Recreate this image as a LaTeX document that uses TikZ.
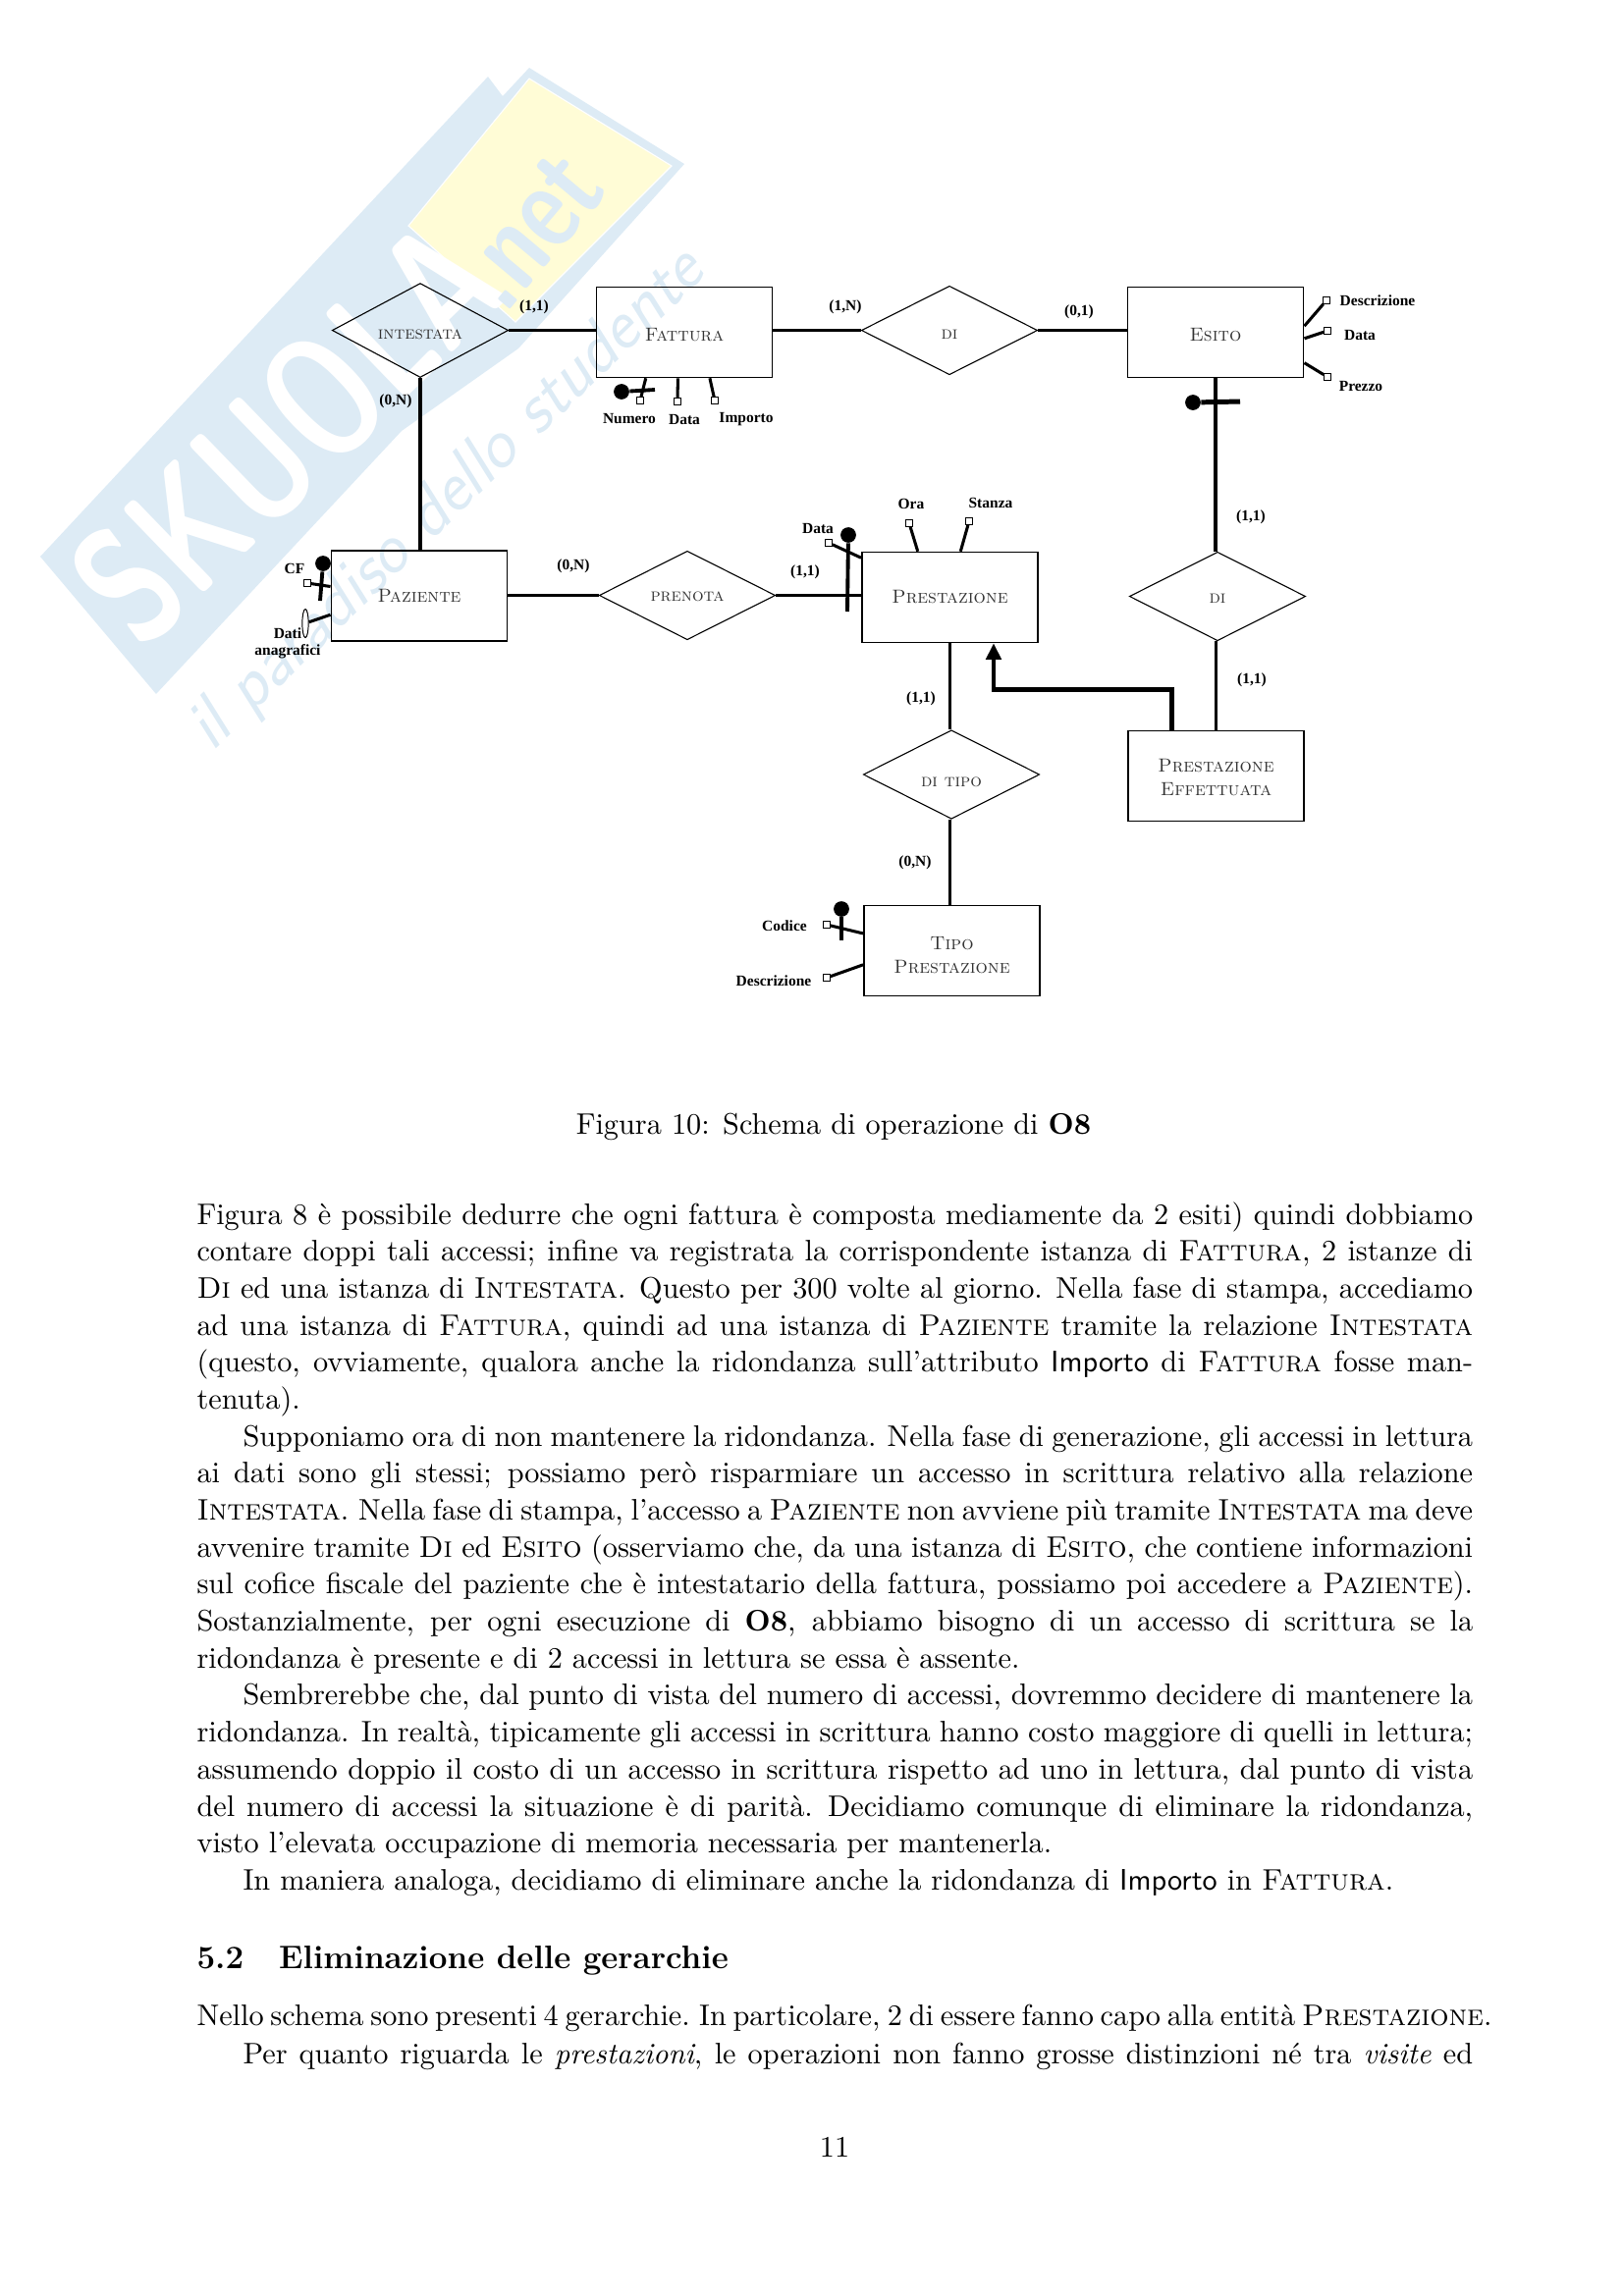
\documentclass[tikz,border=0pt]{standalone}
\usepackage{xcolor}
\usepackage{fontspec}
\usetikzlibrary{arrows.meta,shapes.geometric}

\newfontfamily\labelfont{Liberation Serif}
\definecolor{markblue}{RGB}{221,235,245}
\definecolor{markyellow}{RGB}{255,252,214}
\newcommand{\pagefont}{\fontsize{10.95}{13.63}\selectfont}
\newcommand{\fitline}[2][470pt]{\hbox to #1{\spaceskip=0.33em plus 0.3em minus 0.16em\xspaceskip=0.44em plus 0.3em minus 0.2em\relax #2}}
\newcommand{\lowsc}[2]{\raisebox{-#1}[\height][0pt]{\textsc{#2}}}

\tikzset{
    entity/.style={rectangle,draw,line width=0.55pt,minimum width=2.28cm,minimum height=1.17cm,inner sep=0pt,align=center,text=black!80,font=\fontsize{7}{9}\selectfont},
    relation/.style={diamond,draw,line width=0.4pt,minimum width=2.28cm,minimum height=1.15cm,inner sep=0pt,text=black!80,font=\fontsize{6.6}{8}\selectfont},
    link/.style={line width=1.2pt},
    attrline/.style={line width=1.1pt},
    keyline/.style={line width=1.4pt},
    isaline/.style={line width=1.8pt,-{Triangle[length=6pt,width=5.5pt]}},
    attrsq/.style={rectangle,draw,fill=white,line width=0.35pt,minimum size=0.085cm,inner sep=0pt},
    attrround/.style={ellipse,draw,fill=white,line width=0.35pt,minimum width=0.08cm,minimum height=0.37cm,inner sep=0pt},
    keydot/.style={circle,fill=black,minimum size=0.2cm,inner sep=0pt},
    smalllabel/.style={inner sep=0pt,align=center,font=\labelfont\fontsize{5.6}{6.2}\selectfont\bfseries},
    pageline/.style={anchor=base,inner sep=0pt,font=\pagefont},
    pagetext/.style={anchor=base west,inner sep=0pt,text width=470pt,font=\pagefont}
}

\begin{document}
\begin{tikzpicture}[x=0.012704cm,y=-0.012704cm]
    \useasboundingbox (0,0) rectangle (1653,2339);

    \fill[markblue] (41,567) -- (497,78) -- (512,98) -- (539,69) -- (697,167) -- (528,355) -- (409,439) -- (159,707) -- cycle;
    \filldraw[fill=markyellow,draw=white,line width=0.4pt] (416,230) -- (539,80) -- (684,169) -- (525,328) -- cycle;
    \node (marksk) [text=white,rotate=44,xscale=0.72,transform shape,inner sep=0pt,font=\fontsize{62}{62}\selectfont\sffamily\bfseries] at (292,440) {SKUOLA};
    \node (marknet) [text=markblue,rotate=50,xscale=0.75,transform shape,inner sep=0pt,font=\fontsize{45}{45}\selectfont\sffamily\bfseries] at (540,235) {.net};
    \node (markil) [text=markblue,rotate=44,inner sep=0pt,font=\fontsize{26}{26}\selectfont\sffamily\itshape] at (456,510) {il paradiso dello studente};

    \node[relation] (intestata) at (428,336.5) {\lowsc{1.6pt}{intestata}};
    \node[entity] (fattura) at (697,338.5) {\lowsc{1pt}{Fattura}};
    \node[relation] (difattura) at (967,336.5) {\lowsc{1.6pt}{di}};
    \node[entity] (esito) at (1238,338.5) {\lowsc{1pt}{Esito}};
    \node[entity] (paziente) at (427,607) {\textsc{Paziente}};
    \node[relation] (prenota) at (700,606.5) {\lowsc{0.5pt}{prenota}};
    \node[entity] (prestazione) at (967.5,608.5) {\textsc{Prestazione}};
    \node[relation] (diesito) at (1240,607.5) {\lowsc{1pt}{di}};
    \node[relation] (ditipo) at (969,789) {\lowsc{2.6pt}{di tipo}};
    \node[entity] (effettuata) at (1238.5,790.5) {\lowsc{0.5pt}{Prestazione}\\\lowsc{0.5pt}{Effettuata}};
    \node[entity] (tipo) at (969.5,968.5) {\lowsc{1.6pt}{Tipo}\\\lowsc{1.6pt}{Prestazione}};

    \draw[link] (intestata.east) -- (intestata.east -| fattura.west);
    \draw[link] (difattura.west -| fattura.east) -- (difattura.west);
    \draw[link] (difattura.east) -- (difattura.east -| esito.west);
    \draw[link] (intestata.south) -- (intestata.south |- paziente.north);
    \draw[link] (prenota.west -| paziente.east) -- (prenota.west);
    \draw[link] (prenota.east) -- (prenota.east -| prestazione.west);
    \draw[link] (esito.south) -- (esito.south |- diesito.north);
    \draw[link] (effettuata.north |- diesito.south) -- (effettuata.north);
    \draw[link] (prestazione.south) -- (prestazione.south |- ditipo.north);
    \draw[link] (prestazione.south |- ditipo.south) -- (prestazione.south |- tipo.north);

    \coordinate (isabend) at (1012,702);
    \draw[isaline] (effettuata.134) |- (isabend) -- (isabend |- prestazione.south);

    \node[smalllabel] (c1) at (544,313) {(1,1)};
    \node[smalllabel] (c2) at (403,409) {(0,N)};
    \node[smalllabel] (c3) at (861,313) {(1,N)};
    \node[smalllabel] (c4) at (1099,318) {(0,1)};
    \node[smalllabel] (c5) at (584,577) {(0,N)};
    \node[smalllabel] (c6) at (820,583) {(1,1)};
    \node[smalllabel] (c7) at (1274,527) {(1,1)};
    \node[smalllabel] (c8) at (1275,693) {(1,1)};
    \node[smalllabel] (c9) at (938,712) {(1,1)};
    \node[smalllabel] (c10) at (932,879) {(0,N)};

    \node[attrsq] (numero) at (652,408) {};
    \node[attrsq] (datafattura) at (690,409) {};
    \node[attrsq] (importo) at (728,408) {};
    \node[smalllabel] (numerolabel) at (641,427) {Numero};
    \node[smalllabel] (datafatturalabel) at (697,427) {Data};
    \node[smalllabel] (importolabel) at (760,427) {Importo};
    \draw[attrline] (fattura.-130.6) -- (numero);
    \draw[attrline] (fattura.-98.7) -- (datafattura);
    \draw[attrline] (fattura.-61.2) -- (importo);
    \node[keydot] (numerokey) at (633,399) {};
    \coordinate (numeroend) at (667,397);
    \draw[keyline] (numerokey) -- (numeroend);

    \node[attrsq] (cf) at (313,594) {};
    \node[attrround] (dati) at (311,635) {};
    \node[smalllabel] (cflabel) at (300,579) {CF};
    \node[smalllabel] (datilabel) at (293,655) {Dati\\anagrafici};
    \draw[attrline] (paziente.174.3) -- (cf);
    \draw[attrline] (paziente.192.5) -- (dati);
    \node[keydot] (cfkey) at (329,574) {};
    \coordinate (cfend) at (326,612);
    \draw[keyline] (cfkey) -- (cfend);

    \node[attrsq] (descesito) at (1351,306) {};
    \node[attrsq] (dataesito) at (1352,337) {};
    \node[attrsq] (prezzo) at (1352,384) {};
    \node[smalllabel] (descesitolabel) at (1403,306) {Descrizione};
    \node[smalllabel] (dataesitolabel) at (1385,341) {Data};
    \node[smalllabel] (prezzolabel) at (1386,393) {Prezzo};
    \draw[attrline] (esito.4.8) -- (descesito);
    \draw[attrline] (esito.-4.1) -- (dataesito);
    \draw[attrline] (esito.-19.3) -- (prezzo);
    \node[keydot] (esitokey) at (1215,410) {};
    \coordinate (esitoend) at (1263,409);
    \draw[line width=1.8pt] (esitokey) -- (esitoend);

    \node[attrsq] (ora) at (926,533) {};
    \node[attrsq] (stanza) at (987,531) {};
    \node[attrsq] (datapres) at (844,553) {};
    \node[smalllabel] (oralabel) at (928,513) {Ora};
    \node[smalllabel] (stanzalabel) at (1009,512) {Stanza};
    \node[smalllabel] (datapreslabel) at (833,538) {Data};
    \draw[attrline] (prestazione.125.8) -- (ora);
    \draw[attrline] (prestazione.77.3) -- (stanza);
    \draw[attrline] (prestazione.156.2) -- (datapres);
    \node[keydot] (preskey) at (864,545) {};
    \coordinate (presend) at (863,623);
    \draw[keyline] (preskey) -- (presend);

    \node[attrsq] (codice) at (842,942) {};
    \node[attrsq] (desctipo) at (842,996) {};
    \node[smalllabel] (codicelabel) at (799,943) {Codice};
    \node[smalllabel] (desctipolabel) at (788,999) {Descrizione};
    \draw[attrline] (tipo.169) -- (codice);
    \draw[attrline] (tipo.189.8) -- (desctipo);
    \node[keydot] (tipokey) at (857,926) {};
    \coordinate (tipoend) at (857,958);
    \draw[keyline] (tipokey) -- (tipoend);

    \node[pageline] (caption) at (849,1155) {Figura 10: Schema di operazione di \textbf{O8}};

    \node[pagetext] (body) at (200,1247) {
    \fitline{Figura 8 è possibile dedurre che ogni fattura è composta mediamente da 2 esiti) quindi dobbiamo}
    \fitline{contare doppi tali accessi; infine va registrata la corrispondente istanza di \textsc{Fattura}, 2 istanze di}
    \fitline{\textsc{Di} ed una istanza di \textsc{Intestata}. Questo per 300 volte al giorno. Nella fase di stampa, accediamo}
    \fitline{ad una istanza di \textsc{Fattura}, quindi ad una istanza di \textsc{Paziente} tramite la relazione \textsc{Intestata}}
    \fitline{(questo, ovviamente, qualora anche la ridondanza sull'attributo \textsf{Importo} di \textsc{Fattura} fosse man-}
    \fitline{tenuta).\hfil}
    \fitline{\hspace*{17pt}Supponiamo ora di non mantenere la ridondanza. Nella fase di generazione, gli accessi in lettura}
    \fitline{ai dati sono gli stessi; possiamo però risparmiare un accesso in scrittura relativo alla relazione}
    \fitline{\textsc{Intestata}. Nella fase di stampa, l'accesso a \textsc{Paziente} non avviene più tramite \textsc{Intestata} ma deve}
    \fitline{avvenire tramite \textsc{Di} ed \textsc{Esito} (osserviamo che, da una istanza di \textsc{Esito}, che contiene informazioni}
    \fitline{sul cofice fiscale del paziente che è intestatario della fattura, possiamo poi accedere a \textsc{Paziente}).}
    \fitline{Sostanzialmente, per ogni esecuzione di \textbf{O8}, abbiamo bisogno di un accesso di scrittura se la}
    \fitline{ridondanza è presente e di 2 accessi in lettura se essa è assente.\hfil}
    \fitline{\hspace*{17pt}Sembrerebbe che, dal punto di vista del numero di accessi, dovremmo decidere di mantenere la}
    \fitline{ridondanza. In realtà, tipicamente gli accessi in scrittura hanno costo maggiore di quelli in lettura;}
    \fitline{assumendo doppio il costo di un accesso in scrittura rispetto ad uno in lettura, dal punto di vista}
    \fitline{del numero di accessi la situazione è di parità. Decidiamo comunque di eliminare la ridondanza,}
    \fitline{visto l'elevata occupazione di memoria necessaria per mantenerla.\hfil}
    \fitline{\hspace*{17pt}In maniera analoga, decidiamo di eliminare anche la ridondanza di \textsf{Importo} in \textsc{Fattura}.\hfil}
    };

    \node[anchor=base west,inner sep=0pt,font=\fontsize{12}{14}\selectfont\bfseries] (section) at (200,2005) {5.2\hspace{13pt}Eliminazione delle gerarchie};

    \node[pageline,anchor=base west] (nello) at (200,2063) {\fitline[477pt]{Nello schema sono presenti 4 gerarchie. In particolare, 2 di essere fanno capo alla entità \textsc{Prestazione}.}};
    \node[pagetext] (perquanto) at (200,2102) {\fitline{\hspace*{17pt}Per quanto riguarda le \textit{prestazioni}, le operazioni non fanno grosse distinzioni né tra \textit{visite} ed}};

    \node[pageline] (pagenum) at (850,2197) {11};
\end{tikzpicture}
\end{document}
